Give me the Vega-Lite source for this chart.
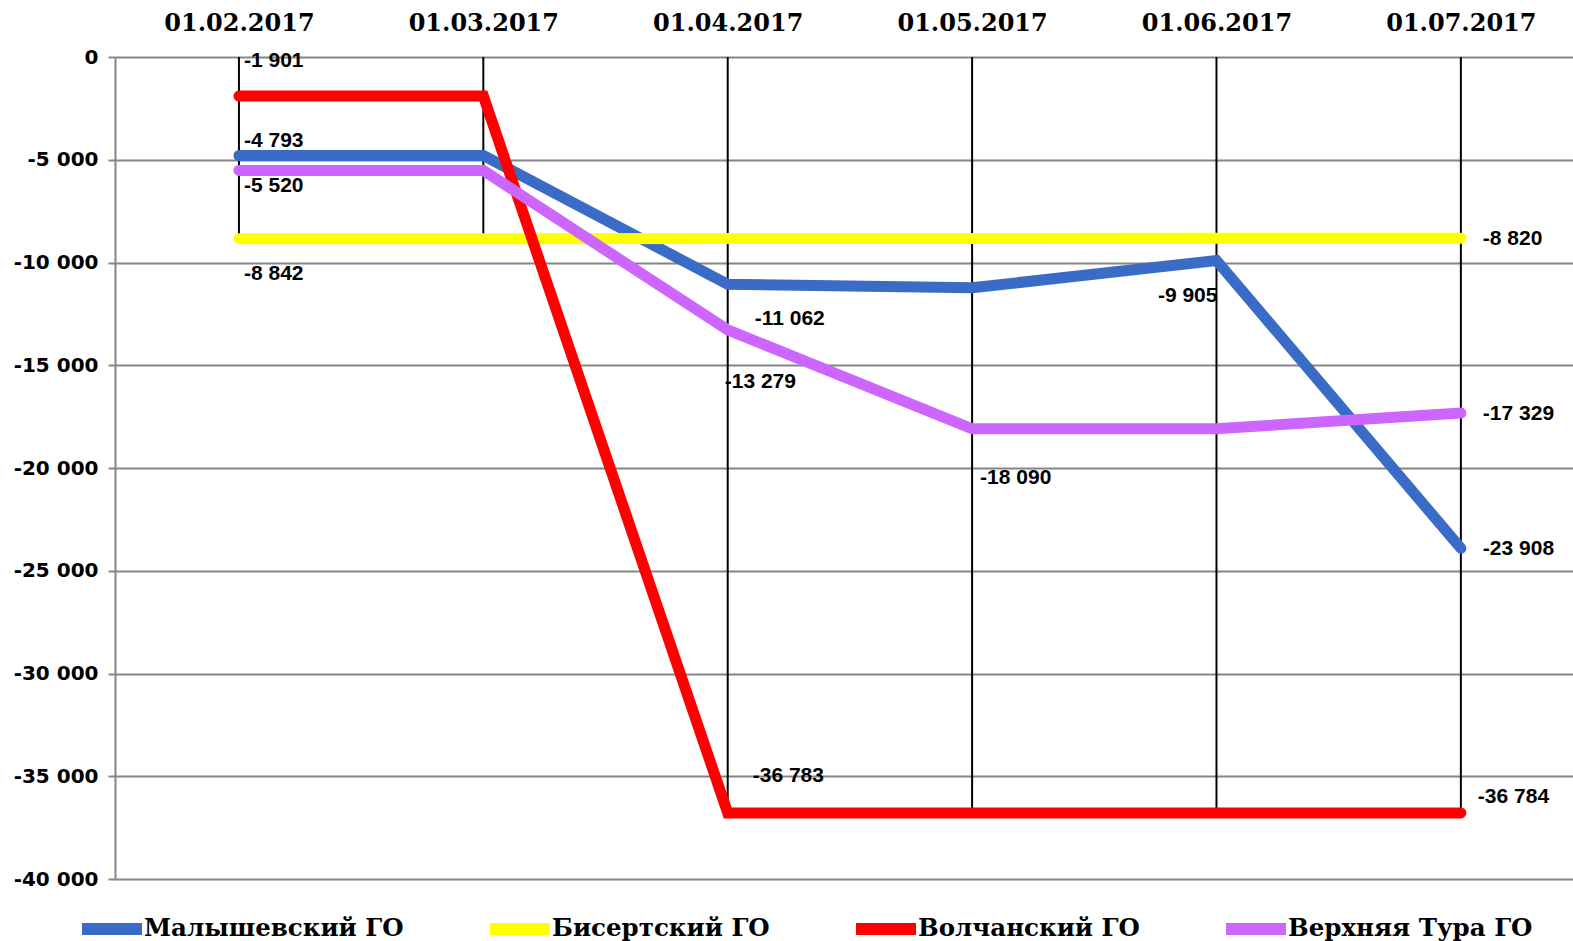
{
  "$schema": "https://vega.github.io/schema/vega-lite/v6.json",
  "width": 1458,
  "height": 822,
  "autosize": "none",
  "padding": {"left": 115, "top": 57, "right": 0, "bottom": 62},
  "config": {
    "locale": {"number": {"decimal": ",", "thousands": " ", "grouping": [3], "currency": ["", ""], "minus": "-"}},
    "view": {"stroke": null}
  },
  "data": {
    "values": [
      {"date": "01.02.2017", "series": "Малышевский ГО", "value": -4793},
      {"date": "01.03.2017", "series": "Малышевский ГО", "value": -4793},
      {"date": "01.04.2017", "series": "Малышевский ГО", "value": -11062},
      {"date": "01.05.2017", "series": "Малышевский ГО", "value": -11230},
      {"date": "01.06.2017", "series": "Малышевский ГО", "value": -9905},
      {"date": "01.07.2017", "series": "Малышевский ГО", "value": -23908},
      {"date": "01.02.2017", "series": "Бисертский ГО", "value": -8842},
      {"date": "01.03.2017", "series": "Бисертский ГО", "value": -8842},
      {"date": "01.04.2017", "series": "Бисертский ГО", "value": -8835},
      {"date": "01.05.2017", "series": "Бисертский ГО", "value": -8830},
      {"date": "01.06.2017", "series": "Бисертский ГО", "value": -8825},
      {"date": "01.07.2017", "series": "Бисертский ГО", "value": -8820},
      {"date": "01.02.2017", "series": "Волчанский ГО", "value": -1901},
      {"date": "01.03.2017", "series": "Волчанский ГО", "value": -1901},
      {"date": "01.04.2017", "series": "Волчанский ГО", "value": -36783},
      {"date": "01.05.2017", "series": "Волчанский ГО", "value": -36783},
      {"date": "01.06.2017", "series": "Волчанский ГО", "value": -36783},
      {"date": "01.07.2017", "series": "Волчанский ГО", "value": -36784},
      {"date": "01.02.2017", "series": "Верхняя Тура ГО", "value": -5520},
      {"date": "01.03.2017", "series": "Верхняя Тура ГО", "value": -5520},
      {"date": "01.04.2017", "series": "Верхняя Тура ГО", "value": -13279},
      {"date": "01.05.2017", "series": "Верхняя Тура ГО", "value": -18090},
      {"date": "01.06.2017", "series": "Верхняя Тура ГО", "value": -18090},
      {"date": "01.07.2017", "series": "Верхняя Тура ГО", "value": -17329}
    ]
  },
  "encoding": {
    "x": {
      "field": "date", "type": "ordinal", "sort": null,
      "scale": {"type": "point", "padding": 0.483, "align": 0.525},
      "axis": {
        "orient": "top", "title": null, "labelAngle": 0, "ticks": false, "domain": false,
        "labelFont": "DejaVu Serif", "labelFontWeight": "bold", "labelFontSize": 24,
        "labelColor": "#000000", "labelPadding": 22, "grid": false
      }
    }
  },
  "layer": [
    {
      "transform": [{"aggregate": [{"op": "min", "field": "value", "as": "minv"}], "groupby": ["date"]}],
      "mark": {"type": "rule", "color": "#000000", "strokeWidth": 2},
      "encoding": {
        "y": {"field": "minv", "type": "quantitative", "scale": {"domain": [-40000, 0], "nice": false},
          "axis": {
            "title": null, "values": [0, -5000, -10000, -15000, -20000, -25000, -30000, -35000, -40000],
            "format": ",d", "grid": true, "gridColor": "#858585", "gridWidth": 2, "gridOpacity": 1,
            "domainColor": "#858585", "domainWidth": 2, "tickColor": "#858585", "tickSize": 7, "tickWidth": 2,
            "labelFont": "DejaVu Sans", "labelFontWeight": "bold", "labelFontSize": 20,
            "labelColor": "#000000", "labelPadding": 10
          }},
        "y2": {"datum": 0}
      }
    },
    {
      "mark": {"type": "line", "strokeWidth": 11, "strokeCap": "round"},
      "encoding": {
        "y": {"field": "value", "type": "quantitative"},
        "color": {
          "field": "series", "type": "nominal",
          "scale": {"domain": ["Малышевский ГО", "Бисертский ГО", "Волчанский ГО", "Верхняя Тура ГО"],
                    "range": ["#3A6BC7", "#FFFF00", "#FF0000", "#CC66FF"]},
          "legend": {
            "title": null, "orient": "none", "direction": "horizontal", "legendX": -39, "legendY": 836,
            "symbolType": "stroke", "symbolStrokeWidth": 12, "symbolSize": 3600,
            "labelFont": "DejaVu Serif", "labelFontWeight": "bold", "labelFontSize": 24.5,
            "labelColor": "#000000", "labelOffset": -4, "columnPadding": 62, "labelLimit": 400
          }
        },
        "order": {"field": "date"}
      }
    },
    {
      "transform": [{"filter": "datum.date == '01.02.2017' && datum.series == 'Волчанский ГО'"}],
      "mark": {"type": "text", "align": "left", "baseline": "middle", "dx": 5, "dy": -35, "font": "Liberation Sans", "fontWeight": "bold", "fontSize": 21, "color": "#000000"},
      "encoding": {"y": {"field": "value", "type": "quantitative"}, "text": {"field": "value", "format": ",d"}}
    },
    {
      "transform": [{"filter": "datum.date == '01.02.2017' && datum.series == 'Малышевский ГО'"}],
      "mark": {"type": "text", "align": "left", "baseline": "middle", "dx": 5, "dy": -14, "font": "Liberation Sans", "fontWeight": "bold", "fontSize": 21, "color": "#000000"},
      "encoding": {"y": {"field": "value", "type": "quantitative"}, "text": {"field": "value", "format": ",d"}}
    },
    {
      "transform": [{"filter": "datum.date == '01.02.2017' && datum.series == 'Верхняя Тура ГО'"}],
      "mark": {"type": "text", "align": "left", "baseline": "middle", "dx": 5, "dy": 16, "font": "Liberation Sans", "fontWeight": "bold", "fontSize": 21, "color": "#000000"},
      "encoding": {"y": {"field": "value", "type": "quantitative"}, "text": {"field": "value", "format": ",d"}}
    },
    {
      "transform": [{"filter": "datum.date == '01.02.2017' && datum.series == 'Бисертский ГО'"}],
      "mark": {"type": "text", "align": "left", "baseline": "middle", "dx": 5, "dy": 35, "font": "Liberation Sans", "fontWeight": "bold", "fontSize": 21, "color": "#000000"},
      "encoding": {"y": {"field": "value", "type": "quantitative"}, "text": {"field": "value", "format": ",d"}}
    },
    {
      "transform": [{"filter": "datum.date == '01.04.2017' && datum.series == 'Малышевский ГО'"}],
      "mark": {"type": "text", "align": "left", "baseline": "middle", "dx": 27, "dy": 35, "font": "Liberation Sans", "fontWeight": "bold", "fontSize": 21, "color": "#000000"},
      "encoding": {"y": {"field": "value", "type": "quantitative"}, "text": {"field": "value", "format": ",d"}}
    },
    {
      "transform": [{"filter": "datum.date == '01.04.2017' && datum.series == 'Верхняя Тура ГО'"}],
      "mark": {"type": "text", "align": "left", "baseline": "middle", "dx": -3, "dy": 52, "font": "Liberation Sans", "fontWeight": "bold", "fontSize": 21, "color": "#000000"},
      "encoding": {"y": {"field": "value", "type": "quantitative"}, "text": {"field": "value", "format": ",d"}}
    },
    {
      "transform": [{"filter": "datum.date == '01.05.2017' && datum.series == 'Верхняя Тура ГО'"}],
      "mark": {"type": "text", "align": "left", "baseline": "middle", "dx": 8, "dy": 49, "font": "Liberation Sans", "fontWeight": "bold", "fontSize": 21, "color": "#000000"},
      "encoding": {"y": {"field": "value", "type": "quantitative"}, "text": {"field": "value", "format": ",d"}}
    },
    {
      "transform": [{"filter": "datum.date == '01.06.2017' && datum.series == 'Малышевский ГО'"}],
      "mark": {"type": "text", "align": "right", "baseline": "middle", "dx": 1, "dy": 35, "font": "Liberation Sans", "fontWeight": "bold", "fontSize": 21, "color": "#000000"},
      "encoding": {"y": {"field": "value", "type": "quantitative"}, "text": {"field": "value", "format": ",d"}}
    },
    {
      "transform": [{"filter": "datum.date == '01.07.2017' && datum.series != 'Волчанский ГО'"}],
      "mark": {"type": "text", "align": "left", "baseline": "middle", "dx": 22, "dy": 1, "font": "Liberation Sans", "fontWeight": "bold", "fontSize": 21, "color": "#000000"},
      "encoding": {"y": {"field": "value", "type": "quantitative"}, "text": {"field": "value", "format": ",d"}}
    },
    {
      "transform": [{"filter": "datum.date == '01.07.2017' && datum.series == 'Волчанский ГО'"}],
      "mark": {"type": "text", "align": "left", "baseline": "middle", "dx": 17, "dy": -16, "font": "Liberation Sans", "fontWeight": "bold", "fontSize": 21, "color": "#000000"},
      "encoding": {"y": {"field": "value", "type": "quantitative"}, "text": {"field": "value", "format": ",d"}}
    },
    {
      "transform": [{"filter": "datum.date == '01.04.2017' && datum.series == 'Волчанский ГО'"}],
      "mark": {"type": "text", "align": "left", "baseline": "middle", "dx": 25, "dy": -37, "font": "Liberation Sans", "fontWeight": "bold", "fontSize": 21, "color": "#000000"},
      "encoding": {"y": {"field": "value", "type": "quantitative"}, "text": {"field": "value", "format": ",d"}}
    }
  ]
}
